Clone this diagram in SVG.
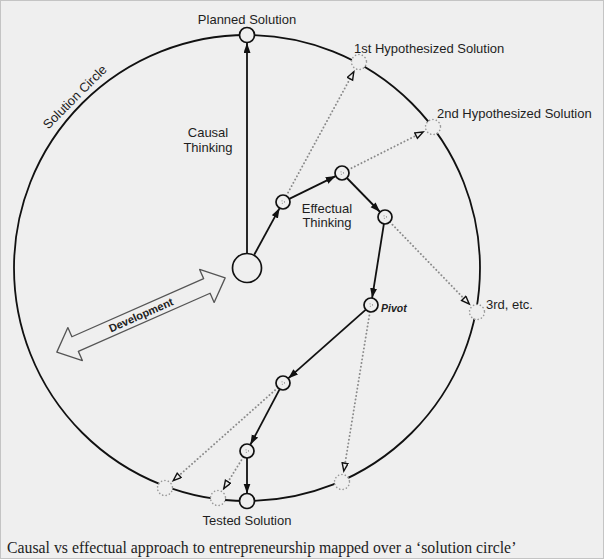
<svg xmlns="http://www.w3.org/2000/svg" width="604" height="559" viewBox="0 0 604 559">
<style>
.lbl{font-family:"Liberation Sans",Arial,sans-serif;font-size:13px;fill:#1e1e1e}
.solid{stroke:#111;stroke-width:1.8;fill:none}
.dot{stroke:#8a8a8a;stroke-width:1.9;stroke-dasharray:0.1 3.6;stroke-linecap:round;fill:none}
.node{fill:#efefef;stroke:#111;stroke-width:1.7}
.ghost{fill:#efefef;stroke:#999;stroke-width:1.6;stroke-dasharray:0.1 3.4;stroke-linecap:round}
.pip{fill:none;stroke:#999;stroke-width:1.1;stroke-dasharray:0.1 2.6;stroke-linecap:round}
</style>
<defs>
<marker id="fa" markerUnits="userSpaceOnUse" markerWidth="12" markerHeight="9" refX="10" refY="3.5" orient="auto">
<path d="M0,0 L10,3.5 L0,7 z" fill="#111"/>
</marker>
<marker id="oa" markerUnits="userSpaceOnUse" markerWidth="12" markerHeight="10" refX="9" refY="3.5" orient="auto">
<path d="M1,0.5 L9,3.5 L1,6.5 z" fill="#efefef" stroke="#111" stroke-width="1.4"/>
</marker>
</defs>
<rect x="0.5" y="0.5" width="603" height="558" fill="#efefef" stroke="#c4c4c4"/>

<g id="solution-circle">
<circle cx="247" cy="268" r="233" class="solid" stroke-width="1.9"/>
<text class="lbl" font-size="13.5" text-anchor="middle" transform="translate(78,100) rotate(-45)">Solution Circle</text>
</g>

<g id="development">
<polygon transform="translate(141,315) rotate(-23.8)" points="-92,0 -72,-18 -72,-8 72,-8 72,-18 92,0 72,18 72,8 -72,8 -72,18" fill="#efefef" stroke="#555" stroke-width="1.3" stroke-linejoin="round"/>
<text transform="translate(141,315) rotate(-23.8)" y="3.8" text-anchor="middle" font-family="Liberation Sans,Arial,sans-serif" font-size="11" font-weight="bold" fill="#222">Development</text>
</g>

<g id="connectors">
<line x1="247" y1="253" x2="247" y2="43" class="solid" marker-end="url(#fa)"/>
<line x1="254.2" y1="254.8" x2="279.6" y2="208.1" class="solid" marker-end="url(#fa)"/>
<line x1="289.3" y1="198.9" x2="335.7" y2="176.1" class="solid" marker-end="url(#fa)"/>
<line x1="346.9" y1="178" x2="380.1" y2="212" class="solid" marker-end="url(#fa)"/>
<line x1="383.9" y1="223.9" x2="372.1" y2="298.1" class="solid" marker-end="url(#fa)"/>
<line x1="365.8" y1="309.6" x2="288.2" y2="378.4" class="solid" marker-end="url(#fa)"/>
<line x1="279.7" y1="389.2" x2="250.3" y2="444.8" class="solid" marker-end="url(#fa)"/>
<line x1="247" y1="458" x2="247" y2="493.5" class="solid" marker-end="url(#fa)"/>

<line x1="286.3" y1="195.8" x2="353.8" y2="71.7" class="dot" marker-end="url(#oa)"/>
<line x1="348.2" y1="169.8" x2="423.2" y2="132" class="dot" marker-end="url(#oa)"/>
<line x1="389.9" y1="222" x2="469.3" y2="304.1" class="dot" marker-end="url(#oa)"/>
<line x1="369.9" y1="311.9" x2="343.8" y2="471.1" class="dot" marker-end="url(#oa)"/>
<line x1="277.8" y1="387.7" x2="173.2" y2="480.7" class="dot" marker-end="url(#oa)"/>
<line x1="243.3" y1="457" x2="223.8" y2="488.6" class="dot" marker-end="url(#oa)"/>
</g>

<g id="start"><circle cx="247" cy="268" r="14.5" class="node"/></g>
<g id="planned"><circle cx="247" cy="35" r="7.5" class="node"/>
<text class="lbl" x="247" y="24" text-anchor="middle">Planned Solution</text></g>
<g id="causal-label"><text class="lbl" x="208" y="137" text-anchor="middle">Causal</text>
<text class="lbl" x="208" y="152" text-anchor="middle">Thinking</text></g>
<g id="effectual-label"><text class="lbl" x="327" y="213" text-anchor="middle">Effectual</text>
<text class="lbl" x="327" y="227" text-anchor="middle">Thinking</text></g>

<g id="n1"><circle cx="283" cy="202" r="7" class="node"/><circle cx="283" cy="202" r="1.5" class="pip"/></g>
<g id="n2"><circle cx="342" cy="173" r="7" class="node"/><circle cx="342" cy="173" r="1.5" class="pip"/></g>
<g id="n3"><circle cx="385" cy="217" r="7" class="node"/><circle cx="385" cy="217" r="1.5" class="pip"/></g>
<g id="pivot"><circle cx="371" cy="305" r="7" class="node"/><circle cx="371" cy="305" r="1.5" class="pip"/>
<text x="381" y="312" font-family="Liberation Sans,Arial,sans-serif" font-size="10.5" font-weight="bold" font-style="italic" fill="#222">Pivot</text></g>
<g id="n5"><circle cx="283" cy="383" r="7" class="node"/><circle cx="283" cy="383" r="1.5" class="pip"/></g>
<g id="n6"><circle cx="247" cy="451" r="7" class="node"/><circle cx="247" cy="451" r="1.5" class="pip"/></g>
<g id="tested"><circle cx="247" cy="501" r="7.5" class="node"/>
<text class="lbl" x="247" y="525" text-anchor="middle">Tested Solution</text></g>

<g id="hyp1"><circle cx="359" cy="62" r="7.5" class="ghost"/>
<text class="lbl" x="354" y="53">1st Hypothesized Solution</text></g>
<g id="hyp2"><circle cx="433" cy="127" r="7.5" class="ghost"/>
<text class="lbl" x="437" y="118">2nd Hypothesized Solution</text></g>
<g id="hyp3"><circle cx="477" cy="312" r="7.5" class="ghost"/>
<text class="lbl" x="486" y="309">3rd, etc.</text></g>
<g id="alt-br"><circle cx="342" cy="482" r="7.5" class="ghost"/></g>
<g id="alt-bl"><circle cx="165" cy="488" r="7.5" class="ghost"/></g>
<g id="alt-b"><circle cx="218" cy="498" r="7.5" class="ghost"/></g>

<text x="7" y="553" font-family="Liberation Serif,'Times New Roman',serif" font-size="15.8" fill="#222">Causal vs effectual approach to entrepreneurship mapped over a ‘solution circle’</text>
</svg>
